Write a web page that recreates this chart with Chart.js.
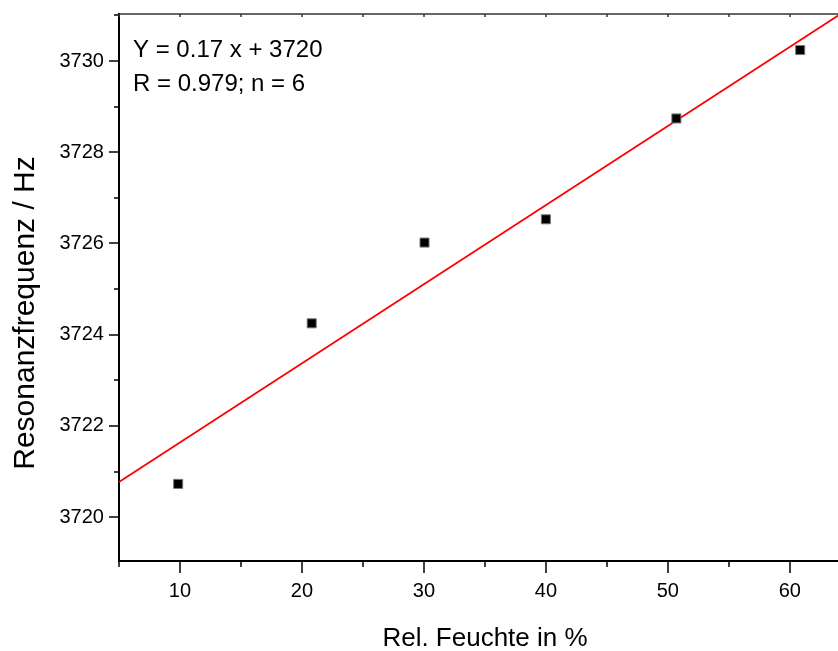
<!DOCTYPE html>
<html>
<head>
<meta charset="utf-8">
<script src="https://cdn.jsdelivr.net/npm/chart.js@4/dist/chart.umd.min.js"></script>
<style>
  html, body { margin: 0; padding: 0; background: #fff; overflow: hidden; }
  canvas { display: block; }
</style>
</head>
<body>
<canvas id="grafica" width="846" height="651"></canvas>
<script>
// Messpunkte
var feuchte = [9.85, 20.8, 30.05, 40.0, 50.7, 60.85];
var frequenz = [3720.73, 3724.25, 3726.02, 3726.53, 3728.74, 3730.24];

// Ausgleichsgerade (Endpunkte aus dem Bild gelesen)
var fitX = [5, 64];
var fitY = [3720.77, 3731.0];

var xTitel = 'Rel. Feuchte in %';
var yTitel = 'Resonanzfrequenz / Hz';
var textZeilen = ['Y = 0.17 x + 3720', 'R = 0.979; n = 6'];

var FONT = "'Liberation Sans', Arial, sans-serif";

var punkte = feuchte.map(function (x, i) { return { x: x, y: frequenz[i] }; });
var gerade = fitX.map(function (x, i) { return { x: x, y: fitY[i] }; });

// Haupt- und Nebenstriche, obere Achse, Titel und Text
var achsenPlugin = {
    id: 'achsen',
    afterDraw: function (chart) {
        var ctx = chart.ctx;
        var area = chart.chartArea;
        var sx = chart.scales.x;
        var sy = chart.scales.y;
        ctx.save();
        ctx.strokeStyle = '#000';
        ctx.lineWidth = 1.5;

        // x Striche unten
        sx.ticks.forEach(function (t) {
            var px = Math.round(sx.getPixelForValue(t.value));
            var len = (t.value % 10 === 0) ? 12 : 6;
            ctx.beginPath();
            ctx.moveTo(px, area.bottom);
            ctx.lineTo(px, area.bottom + len);
            ctx.stroke();
        });
        // y Striche links
        sy.ticks.forEach(function (t) {
            var py = Math.round(sy.getPixelForValue(t.value));
            var len = (Math.round(t.value) % 2 === 0) ? 10 : 5;
            ctx.beginPath();
            ctx.moveTo(area.left, py);
            ctx.lineTo(area.left - len, py);
            ctx.stroke();
        });

        // obere Achse
        ctx.strokeStyle = '#333';
        ctx.lineWidth = 1.5;
        ctx.beginPath();
        ctx.moveTo(area.left, area.top);
        ctx.lineTo(area.right, area.top);
        ctx.stroke();
        sx.ticks.forEach(function (t) {
            var px = Math.round(sx.getPixelForValue(t.value));
            ctx.beginPath();
            ctx.moveTo(px, area.top);
            ctx.lineTo(px, area.top + 3);
            ctx.stroke();
        });

        ctx.fillStyle = '#000';
        // Achsentitel
        ctx.font = '26px ' + FONT;
        ctx.textAlign = 'center';
        ctx.textBaseline = 'alphabetic';
        ctx.fillText(xTitel, 485, 646);

        ctx.save();
        ctx.translate(34, 313);
        ctx.rotate(-Math.PI / 2);
        ctx.font = '30px ' + FONT;
        ctx.fillText(yTitel, 0, 0);
        ctx.restore();

        // Gleichung
        ctx.font = '24px ' + FONT;
        ctx.textAlign = 'left';
        ctx.fillText(textZeilen[0], 133, 57);
        ctx.fillText(textZeilen[1], 133, 91);
        ctx.restore();
    }
};

var ctx = document.getElementById('grafica');
var grafica = new Chart(ctx.getContext('2d'), {
    type: 'scatter',
    data: {
        datasets: [{
            label: 'Fit',
            type: 'line',
            data: gerade,
            borderColor: '#ff0000',
            borderWidth: 1.8,
            pointRadius: 0,
            fill: false,
            order: 2
        }, {
            label: 'Messwerte',
            data: punkte,
            pointStyle: 'rect',
            pointRadius: 6.4,
            backgroundColor: '#000',
            borderColor: '#777',
            borderWidth: 1,
            order: 1
        }]
    },
    options: {
        responsive: false,
        animation: false,
        clip: false,
        layout: {
            padding: { left: 54.5, top: 11, right: 0, bottom: 42 }
        },
        plugins: {
            legend: { display: false },
            tooltip: { enabled: false }
        },
        scales: {
            x: {
                type: 'linear',
                min: 5,
                max: 64,
                grid: { display: false, drawTicks: true, tickLength: 12 },
                border: { display: true, color: '#000', width: 2 },
                ticks: {
                    stepSize: 5,
                    includeBounds: false,
                    autoSkip: false,
                    maxRotation: 0,
                    padding: 6,
                    color: '#000',
                    font: { family: FONT, size: 20 },
                    callback: function (v) { return v % 10 === 0 ? v : ''; }
                }
            },
            y: {
                type: 'linear',
                min: 3719.04,
                max: 3731.03,
                grid: { display: false, drawTicks: true, tickLength: 10 },
                border: { display: true, color: '#000', width: 2 },
                ticks: {
                    stepSize: 1,
                    includeBounds: false,
                    autoSkip: false,
                    padding: 5,
                    color: '#000',
                    font: { family: FONT, size: 20, lineHeight: 0.9 },
                    callback: function (v) { return Math.round(v) % 2 === 0 ? v : ''; }
                }
            }
        }
    },
    plugins: [achsenPlugin]
});
</script>
</body>
</html>
